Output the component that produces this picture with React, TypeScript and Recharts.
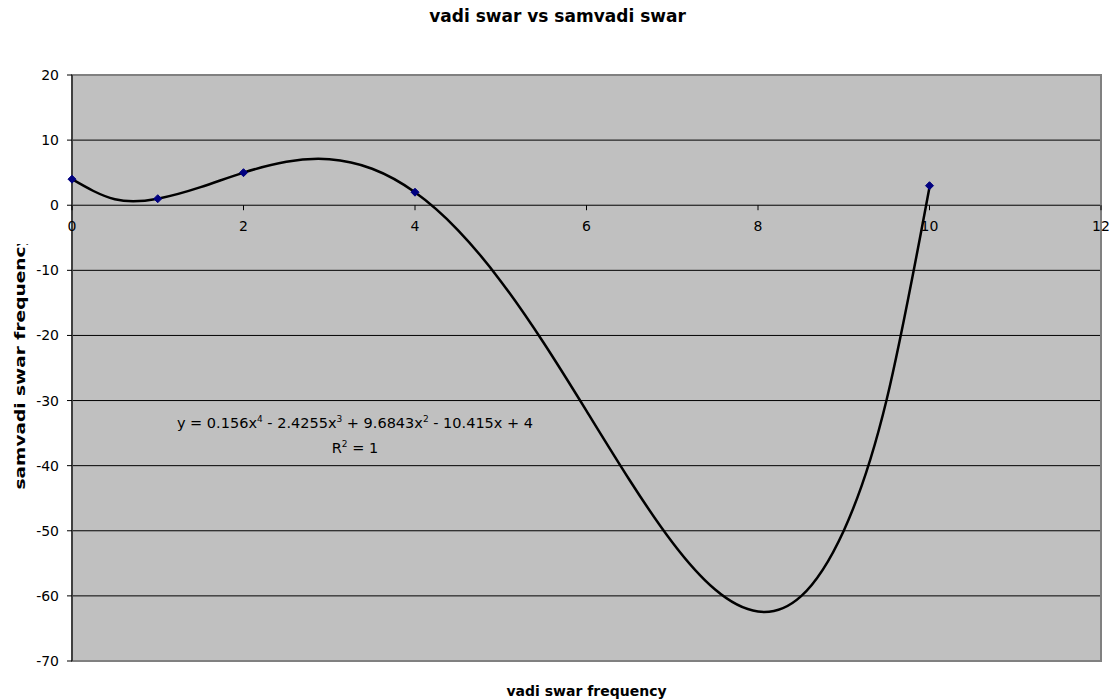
import React from 'react';
import {
  ComposedChart,
  Line,
  Scatter,
  XAxis,
  YAxis,
  CartesianGrid,
  ReferenceDot,
  ReferenceArea,
} from 'recharts';

// observed points
const vadi = [0, 1, 2, 4, 10];
const samvadi = [4, 1, 5, 2, 3];

// trendline
const trendX = [0, 0.5, 1, 1.5, 2, 2.5, 3, 3.5, 4, 4.5, 5, 5.5, 6, 6.5, 7, 7.5, 8, 8.5, 9, 9.5, 10];
const trendY = [4, 0.92, 1, 2.77, 5, 6.68, 7.06, 5.6, 1.99, -3.81, -11.66, -21.13, -31.59, -42.16, -51.76, -59.03, -62.4, -60.07, -49.98, -29.87, 2.78];

const xTicks = [0, 2, 4, 6, 8, 10, 12];
const yTicks = [20, 10, 0, -10, -20, -30, -40, -50, -60, -70];

const points = vadi.map((x, i) => ({ x, y: samvadi[i] }));
const trend = trendX.map((x, i) => ({ x, y: trendY[i] }));

const FONT = '"DejaVu Sans", Arial, sans-serif';

const Diamond = (props: any) => {
  const { cx, cy } = props;
  const r = 4;
  return (
    <polygon
      points={`${cx},${cy - r} ${cx + r},${cy} ${cx},${cy + r} ${cx - r},${cy}`}
      fill="#000080"
      stroke="#000080"
    />
  );
};

const XTickMark = (props: any) => {
  const { viewBox, value } = props;
  const x = viewBox.x;
  const y = viewBox.y;
  return (
    <g>
      <line x1={x} x2={x} y1={y} y2={y + 5} stroke="#000" />
      <text x={x} y={y + 26} textAnchor="middle" fontSize={14} fontFamily={FONT} fill="#000">
        {value}
      </text>
    </g>
  );
};

const Equation = (props: any) => {
  const { viewBox } = props;
  const x = viewBox.x;
  const y = viewBox.y;
  const sup = { fontSize: 9, dy: -6 } as any;
  return (
    <g fontFamily={FONT} fontSize={14.5} fill="#000">
      <text x={x} y={y} textAnchor="middle">
        <tspan>y = 0.156x</tspan>
        <tspan {...sup}>4</tspan>
        <tspan dy={6}> - 2.4255x</tspan>
        <tspan {...sup}>3</tspan>
        <tspan dy={6}> + 9.6843x</tspan>
        <tspan {...sup}>2</tspan>
        <tspan dy={6}> - 10.415x + 4</tspan>
      </text>
      <text x={x} y={y + 25} textAnchor="middle">
        <tspan>R</tspan>
        <tspan {...sup}>2</tspan>
        <tspan dy={6}> = 1</tspan>
      </text>
    </g>
  );
};

const YLabel = () => (
  <g>
    <defs>
      <clipPath id="ylabClip">
        <rect x={0} y={244} width={40} height={400} />
      </clipPath>
    </defs>
    <g clipPath="url(#ylabClip)">
      <text
        x={20}
        y={362}
        transform="rotate(-90 20 362)"
        textAnchor="middle"
        dominantBaseline="central"
        fontSize={14}
        fontWeight="bold"
        fontFamily={FONT}
        fill="#000"
        textLength={255}
        lengthAdjust="spacingAndGlyphs"
      >
        samvadi swar frequency
      </text>
    </g>
  </g>
);

export default function App() {
  return (
    <div style={{ position: 'absolute', left: 0, top: 0, width: 1115, height: 700, background: '#fff' }}>
      <div
        style={{
          position: 'absolute',
          top: 6,
          left: 0,
          width: 1115,
          textAlign: 'center',
          fontFamily: FONT,
          fontWeight: 'bold',
          fontSize: 17,
        }}
      >
        vadi swar vs samvadi swar
      </div>
      <ComposedChart width={1115} height={700} margin={{ top: 75, right: 14, bottom: 0, left: 12 }}>
        <CartesianGrid vertical={false} stroke="#000" fill="#C0C0C0" fillOpacity={1} />
        <ReferenceArea x1={0} x2={12} y1={-70} y2={20} fill="none" stroke="#808080" strokeWidth={2} />
        <XAxis
          type="number"
          dataKey="x"
          domain={[0, 12]}
          ticks={xTicks}
          tick={false}
          tickLine={false}
          axisLine={false}
          height={39}
          label={{
            value: 'vadi swar frequency',
            position: 'insideBottom',
            offset: 4,
            fontSize: 14,
            fontWeight: 'bold',
            fontFamily: FONT,
            fill: '#000',
          }}
        />
        <YAxis
          type="number"
          domain={[-70, 20]}
          ticks={yTicks}
          interval={0}
          width={60}
          tickSize={5}
          tickMargin={8}
          axisLine={{ stroke: '#000' }}
          tickLine={{ stroke: '#000' }}
          tick={{ fontSize: 14, fontFamily: FONT, fill: '#000' }}
          label={<YLabel />}
        />
        {xTicks.map((t) => (
          <ReferenceDot
            key={t}
            x={t}
            y={0}
            r={0}
            fill="none"
            stroke="none"
            label={<XTickMark value={t} />}
          />
        ))}
        <Line
          data={trend}
          dataKey="y"
          type="natural"
          stroke="#000"
          strokeWidth={2.5}
          dot={false}
          activeDot={false}
          isAnimationActive={false}
        />
        <Scatter data={points} dataKey="y" shape={<Diamond />} isAnimationActive={false} />
        <ReferenceDot x={3.3} y={-34.2} r={0} fill="none" stroke="none" label={<Equation />} />
      </ComposedChart>
    </div>
  );
}
